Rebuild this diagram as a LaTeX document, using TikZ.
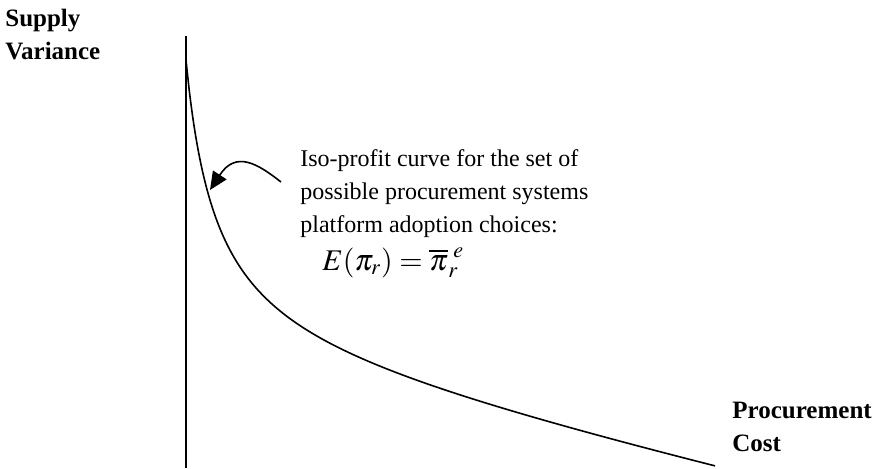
\documentclass[tikz,border=0pt]{standalone}
\usepackage{mathptmx}
\usepackage[no-math]{fontspec}
\setmainfont{Liberation Serif}
\usetikzlibrary{arrows.meta}

\tikzset{
  axislabel/.style={align=left, inner sep=0pt, anchor=north west,
    font=\bfseries\fontsize{12.5}{16.5}\selectfont},
  note/.style={align=left, inner sep=0pt, anchor=north west,
    font=\fontsize{12}{16.5}\selectfont}
}

\begin{document}
\begin{tikzpicture}[x=0.5pt, y=-0.5pt, >={Triangle[length=9pt, width=8pt]}]
            \useasboundingbox (0,0) rectangle (875,468);
            \draw[line width=1pt] (186,36) -- (186,468);
            \node[axislabel] (yname) at (5,9) {Supply\\Variance};
            \node[axislabel] (xname) at (732,402) {Procurement\\Cost};

            % iso-profit curve
            \draw[line width=0.8pt, domain=0:529, samples=160, smooth]
            plot ({186+\x}, {363.1+0.225*\x-9094/(\x+30)});

            \node[note] (isotext) at (300,149) {Iso-profit curve for the set of\\possible procurement systems\\platform adoption choices:};
            \node[inner sep=0pt, anchor=base west, font=\fontsize{15}{18}\selectfont] (isoeq) at (322,270)
              {$E(\pi_{r}) = \overline{\pi}_{r}^{\;e}$};

            \coordinate (arrowstart) at (281,182);
            \coordinate (arrowtip) at (210,190);
            \draw[->, line width=0.8pt] (arrowstart) .. controls (258,164) and (236,150) .. (arrowtip);
        \end{tikzpicture}
\end{document}
